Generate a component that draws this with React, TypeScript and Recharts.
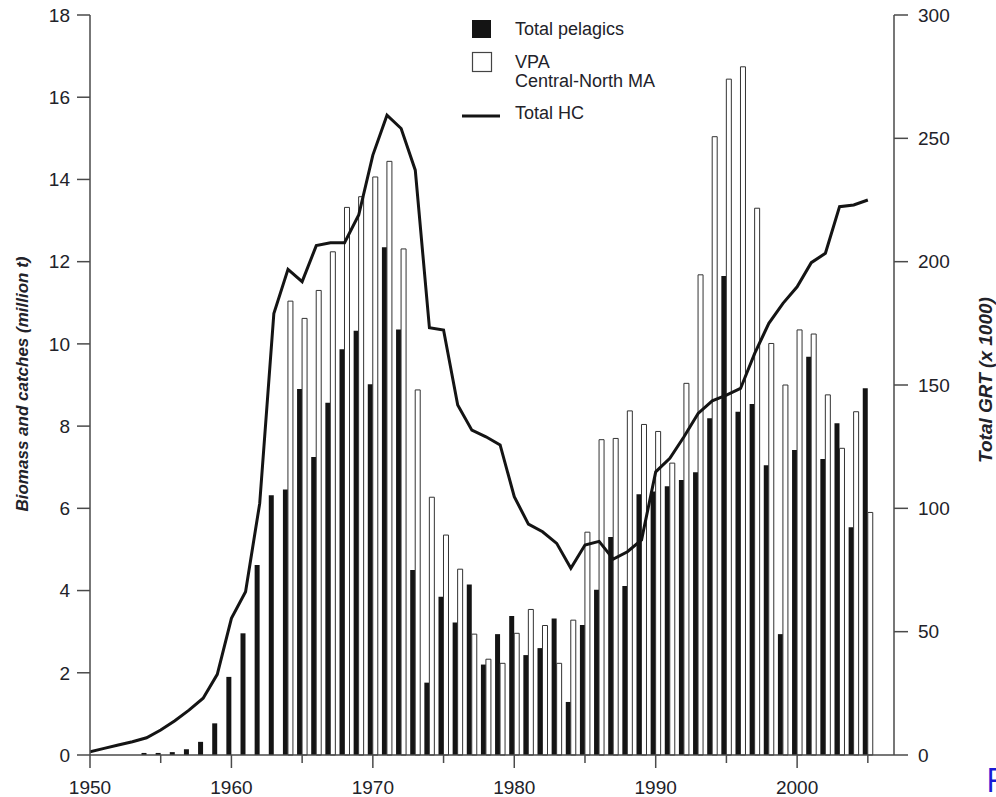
import { ComposedChart, Bar, Line, XAxis, YAxis, Legend } from "recharts";

// ── Data ──────────────────────────────────────────────────────────

const YEARS = [
  1950, 1951, 1952, 1953, 1954, 1955, 1956, 1957, 1958, 1959,
  1960, 1961, 1962, 1963, 1964, 1965, 1966, 1967, 1968, 1969,
  1970, 1971, 1972, 1973, 1974, 1975, 1976, 1977, 1978, 1979,
  1980, 1981, 1982, 1983, 1984, 1985, 1986, 1987, 1988, 1989,
  1990, 1991, 1992, 1993, 1994, 1995, 1996, 1997, 1998, 1999,
  2000, 2001, 2002, 2003, 2004, 2005,
];

// Total pelagics (million t)
const PELAGICS = [
  null, null, null, null, 0.05, 0.05, 0.07, 0.14, 0.32, 0.77,
  1.9, 2.96, 4.62, 6.32, 6.46, 8.9, 7.25, 8.57, 9.87, 10.32,
  9.02, 12.35, 10.35, 4.5, 1.76, 3.85, 3.22, 4.15, 2.2, 2.94,
  3.38, 2.43, 2.6, 3.32, 1.29, 3.16, 4.02, 5.3, 4.11, 6.34,
  6.41, 6.54, 6.69, 6.88, 8.19, 11.65, 8.35, 8.54, 7.05, 2.94,
  7.42, 9.69, 7.2, 8.07, 5.54, 8.92,
];

// VPA Central-North MA (million t)
const VPA = [
  null, null, null, null, null, null, null, null, null, null,
  null, null, null, null, 11.04, 10.62, 11.3, 12.24, 13.32, 13.58,
  14.06, 14.44, 12.31, 8.88, 6.27, 5.35, 4.52, 2.94, 2.33, 2.23,
  2.96, 3.54, 3.15, 2.23, 3.28, 5.42, 7.67, 7.7, 8.37, 8.04,
  7.87, 7.1, 9.04, 11.68, 15.04, 16.44, 16.74, 13.3, 10.01, 9.0,
  10.34, 10.24, 8.76, 7.46, 8.35, 5.9,
];

// Total HC, GRT x 1000
const TOTAL_HC = [
  1.35, 2.7, 4.05, 5.4, 7.0, 10.1, 13.9, 18.2, 23, 32.7,
  55.4, 66.2, 102, 179, 196.9, 191.9, 206.5, 207.7, 207.7, 218.9,
  243.2, 259.4, 254, 237.1, 173.2, 172.3, 141.9, 131.7, 129, 125.7,
  104.7, 93.6, 90.5, 85.8, 75.7, 85.1, 86.6, 79.4, 82.4, 87.2,
  114.8, 120.3, 129, 138.5, 143.6, 145.9, 148.6, 162.8, 175, 183.1,
  189.8, 199.6, 203.4, 222.3, 223, 225,
];

const X_TICKS = [1950, 1955, 1960, 1965, 1970, 1975, 1980, 1985, 1990, 1995, 2000, 2005];
const LEFT_TICKS = [0, 2, 4, 6, 8, 10, 12, 14, 16, 18];
const RIGHT_TICKS = [0, 50, 100, 150, 200, 250, 300];

const data = YEARS.map((year, i) => ({
  year,
  pelagics: PELAGICS[i],
  vpa: VPA[i],
  hc: TOTAL_HC[i],
}));

// ── Styles ────────────────────────────────────────────────────────

const FONT = '"Liberation Sans", Arial, Helvetica, sans-serif';
const TEXT = "#222229";
const AXIS = "#4a4a4a";
const INK = "#141414";

// eslint-disable-next-line @typescript-eslint/no-explicit-any
function YearTick({ x, y, payload }: any) {
  const v = payload.value as number;
  const major = v % 10 === 0;
  return (
    <g>
      <line x1={x} x2={x} y1={y} y2={y + (major ? 13 : 8)} stroke={AXIS} strokeWidth={1.5} />
      {major && (
        <text x={x} y={y + 39} textAnchor="middle" fontSize={19} fontFamily={FONT} fill={TEXT}>
          {v}
        </text>
      )}
    </g>
  );
}

function LeftTitle() {
  return (
    <text x={22} y={384} transform="rotate(-90 22 384)" textAnchor="middle" dominantBaseline="central"
      fontSize={17} fontWeight="bold" fontStyle="italic" fontFamily={FONT} fill={TEXT}>
      Biomass and catches (million t)
    </text>
  );
}

function RightTitle() {
  return (
    <text x={985} y={380} transform="rotate(-90 985 380)" textAnchor="middle" dominantBaseline="central"
      fontSize={19} fontWeight="bold" fontStyle="italic" fontFamily={FONT} fill={TEXT}>
      Total GRT (x 1000)
    </text>
  );
}

function LegendBox() {
  const txt = { fontSize: 18, fontFamily: FONT, fill: TEXT, dominantBaseline: "central" as const };
  return (
    <svg width={260} height={125} style={{ display: "block" }}>
      <rect x={17} y={10} width={19} height={18} fill={INK} />
      <text x={60} y={19} {...txt}>Total pelagics</text>
      <rect x={17.5} y={42.5} width={19} height={19} fill="#fff" stroke="#444" strokeWidth={1.2} />
      <text x={60} y={52} {...txt}>VPA</text>
      <text x={60} y={71} {...txt}>Central-North MA</text>
      <line x1={7} x2={45} y1={106} y2={106} stroke={INK} strokeWidth={3} />
      <text x={60} y={103} {...txt}>Total HC</text>
    </svg>
  );
}

export default function App() {
  return (
    <div style={{ position: "absolute", left: 0, top: 0, width: 996, height: 797, background: "#fff", overflow: "hidden" }}>
      <ComposedChart width={996} height={797} data={data} margin={{ top: 15, right: 0, bottom: 0, left: 0 }} barGap={0}>
        <XAxis dataKey="year" type="number" domain={[1950, 2006.85]} allowDataOverflow ticks={X_TICKS}
          height={42} tickSize={0} tickMargin={0} tickLine={false} tick={<YearTick />}
          axisLine={{ stroke: AXIS, strokeWidth: 1.5 }} />
        <YAxis yAxisId="left" domain={[0, 18]} ticks={LEFT_TICKS} width={90} tickSize={13} tickMargin={7}
          tick={{ fontSize: 19, fontFamily: FONT, fill: TEXT }}
          axisLine={{ stroke: AXIS, strokeWidth: 1.5 }} tickLine={{ stroke: AXIS, strokeWidth: 1.5 }}
          label={<LeftTitle />} />
        <YAxis yAxisId="right" orientation="right" domain={[0, 300]} ticks={RIGHT_TICKS} width={102}
          tickSize={14} tickMargin={10} tick={{ fontSize: 19, fontFamily: FONT, fill: TEXT }}
          axisLine={{ stroke: AXIS, strokeWidth: 1.5 }} tickLine={{ stroke: AXIS, strokeWidth: 1.5 }}
          label={<RightTitle />} />
        <Legend layout="vertical" align="center" verticalAlign="middle" content={<LegendBox />}
          wrapperStyle={{ position: "absolute", left: 455, top: 10, width: 260, height: 125 }} />
        <Bar yAxisId="left" dataKey="pelagics" name="Total pelagics" fill={INK} barSize={5} isAnimationActive={false} />
        <Bar yAxisId="left" dataKey="vpa" name="VPA Central-North MA" fill="#fff" stroke="#333" strokeWidth={1}
          barSize={5} isAnimationActive={false} />
        <Line yAxisId="right" type="linear" dataKey="hc" name="Total HC" stroke={INK} strokeWidth={3}
          dot={false} isAnimationActive={false} />
      </ComposedChart>
      <div style={{ position: "absolute", left: 986, top: 760, fontFamily: '"Open Sans", sans-serif', fontSize: 33,
        lineHeight: "40px", color: "#1a1ad6" }}>
        F
      </div>
    </div>
  );
}
